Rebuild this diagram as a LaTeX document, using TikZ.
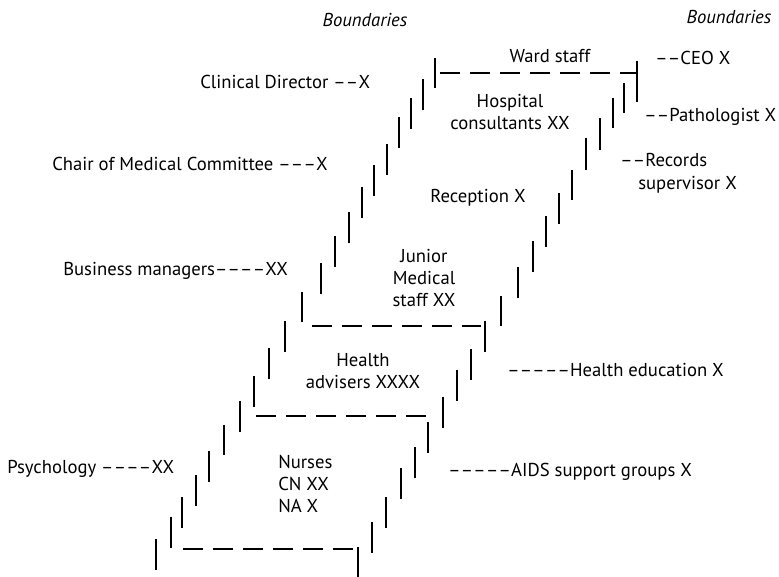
\documentclass[tikz,border=0pt]{standalone}
\usepackage{fontspec}
\setmainfont{PT Sans}
\newcommand\bdash{–\kern0.2pt}
\begin{document}
\begin{tikzpicture}[x=0.75pt,y=-0.75pt,
  stair/.style={line width=2.2pt},
  bound/.style={line width=2.1pt, dash pattern=on 15pt off 7.5pt},
  lbl/.style={inner sep=0pt, font=\fontsize{14}{16.5}\selectfont},
  hdr/.style={inner sep=0pt, font=\fontsize{14}{16.5}\selectfont\itshape}]
\useasboundingbox (0,0) rectangle (779,577);
\fill[white] (0,0) rectangle (779,577);
% left staircase
\foreach \x/\a/\b in {156/539/570,171/517/548,182/497/528,196/475/506,209/451/482,224/425/455,240/401/432,254/376/407,269/348/379,285/321/352,302/292/322,321/263/294,335/236/267,349/212/243,362/187/218,374/165/196,387/144/175,399/117/148,411/98/129,423/79/110,435/58/88}
  \draw[stair] (\x,\a) -- (\x,\b);
% right staircase
\foreach \x/\a/\b in {358/547/577,372/522/553,386/497/528,401/468/499,415/447/478,428/422/453,443/397/428,457/370/401,471/349/380,485/321/352,501/296/326,518/267/298,533/241/272,546/216/247,559/193/224,572/170/200,586/138/170,600/118/150,613/98/128,624/83/113,637/61/102}
  \draw[stair] (\x,\a) -- (\x,\b);
% boundary lines
\coordinate (w1) at (440,73); \coordinate (w2) at (636,73);
\coordinate (j1) at (312,326); \coordinate (j2) at (481,326);
\coordinate (h1) at (256,416); \coordinate (h2) at (426,416);
\coordinate (n1) at (183,549); \coordinate (n2) at (353,549);
\draw[bound] (w1) -- (w2);
\draw[bound] (j1) -- (j2);
\draw[bound] (h1) -- (h2);
\draw[bound] (n1) -- (n2);
% headers
\node[hdr, anchor=base] (bl) at (365,27) {Boundaries};
\node[hdr, anchor=base] (br) at (729,24) {Boundaries};
% inside labels
\node[lbl, anchor=base] (ward) at (550,63) {Ward staff};
\node[lbl, anchor=north, align=center] (hosp) at (510,94) {Hospital\\consultants XX};
\node[lbl, anchor=base] (recp) at (478,203) {Reception X};
\node[lbl, anchor=north, align=center] (jun) at (424,249) {Junior\\Medical\\staff XX};
\node[lbl, anchor=north, align=center] (hadv) at (363,353) {Health\\advisers XXXX};
\node[lbl, anchor=north west, align=left] (nurs) at (278,455) {Nurses\\CN XX\\NA X};
% left side labels
\node[lbl, anchor=base west] (clin) at (200,89) {Clinical Director \bdash\bdash X};
\node[lbl, anchor=base west] (chair) at (52,171) {Chair of Medical Committee \bdash\bdash\bdash X};
\node[lbl, anchor=base west] (bus) at (63,276) {Business managers\bdash\bdash\bdash\bdash XX};
\node[lbl, anchor=base west] (psy) at (7,474) {Psychology \bdash\bdash\bdash\bdash XX};
% right side labels
\node[lbl, anchor=base west] (ceo) at (655,65) {\bdash\bdash CEO X};
\node[lbl, anchor=base west] (path) at (644,122) {\bdash\bdash Pathologist X};
\node[lbl, anchor=base west] (rec) at (620,167) {\bdash\bdash Records};
\node[lbl, anchor=base west] (sup) at (638,190) {supervisor X};
\node[lbl, anchor=base west] (hed) at (507,377) {\bdash\bdash\bdash\bdash\bdash Health education X};
\node[lbl, anchor=base west] (aids) at (448,477) {\bdash\bdash\bdash\bdash\bdash AIDS support groups X};
\end{tikzpicture}
\end{document}
